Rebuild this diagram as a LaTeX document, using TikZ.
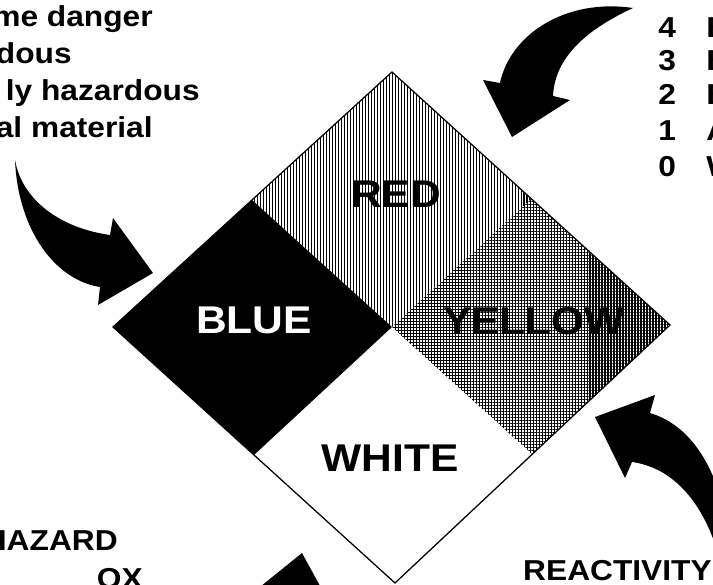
\documentclass[tikz,border=0pt]{standalone}
\usepackage{fontspec}
\setmainfont{Liberation Sans}[FakeStretch=1.1]
\usetikzlibrary{patterns.meta}

\begin{document}
\begin{tikzpicture}[x=0.025cm, y=-0.025cm,
  lst/.style={font=\fontsize{20.5}{20.5}\selectfont\bfseries, inner sep=0pt, anchor=base east},
  num/.style={font=\fontsize{20.5}{20.5}\selectfont\bfseries, inner sep=0pt, anchor=base west},
  big/.style={font=\fontsize{27.5}{27.5}\selectfont\bfseries, inner sep=0pt},
  arw/.style={fill=black, draw=none},
  rim/.style={draw=black, line width=0.9pt, line join=miter},
]
\useasboundingbox (0,0) rectangle (713,585);
\clip (0,0) rectangle (713,585);

\coordinate (top) at (392,72);
\coordinate (rgt) at (670,325);
\coordinate (bot) at (395,583);
\coordinate (lft) at (113,327);
\coordinate (c)   at (392,327);
\coordinate (tl)  at (252,200);
\coordinate (tr)  at (531,199);
\coordinate (br)  at (532,454);
\coordinate (bl)  at (254,455);

\path[pattern={Lines[angle=90,distance=2.13pt,line width=0.95pt]}] (top) -- (tr) -- (c) -- (tl) -- cycle;
\path[pattern={Hatch[distance=2.13pt,line width=0.8pt]}] (tr) -- (rgt) -- (br) -- (c) -- cycle;
\fill[black] (tl) -- (c) -- (bl) -- (lft) -- cycle;
\draw[rim] (top) -- (rgt) -- (bot) -- (lft) -- cycle;

\node[big]             (red)    at (396,194) {RED};
\node[big, text=white] (blue)   at (254,320) {BLUE};
\node[big]             (yellow) at (534,321) {YELLOW};
\node[big]             (white)  at (390,458) {WHITE};

% health
\node[lst] (h3) at (153,27)  {me danger};
\node[lst] (h2) at (72,63)   {dous};
\node[lst] (h1) at (200,100) {ly hazardous};
\node[lst] (h0) at (153,137) {al material};

% flammability
\foreach \n/\y/\t in {4/37/B,3/70/B,2/104/B,1/140/A,0/176/W}{
  \node[num] (f\n) at (658,\y) {\n};
  \node[num] (g\n) at (706,\y) {\t};
}

\node[lst] (haz)   at (118,550) {HAZARD};
\node[lst] (ox)    at (143,588) {OX};
\node[lst] (react) at (712,580) {REACTIVITY};

\fill[arw] (15,160) .. controls (18,230) and (55,280) .. (100,287) -- (98,305) -- (153,273)
  -- (113,218) -- (110,235) .. controls (60,228) and (22,200) .. cycle;
\fill[arw] (633,8) .. controls (565,-2) and (510,35) .. (500,83) -- (483,80) -- (512,137)
  -- (570,100) -- (553,96) .. controls (555,55) and (590,28) .. cycle;
\fill[arw] (595,417) -- (655,395) -- (650,413) .. controls (680,422) and (705,448) .. (720,495)
  -- (720,560) .. controls (705,505) and (675,468) .. (632,462) -- (625,478) -- cycle;
\fill[arw] (302,553) -- (325,595) -- (250,595) -- cycle;
\end{tikzpicture}
\end{document}
